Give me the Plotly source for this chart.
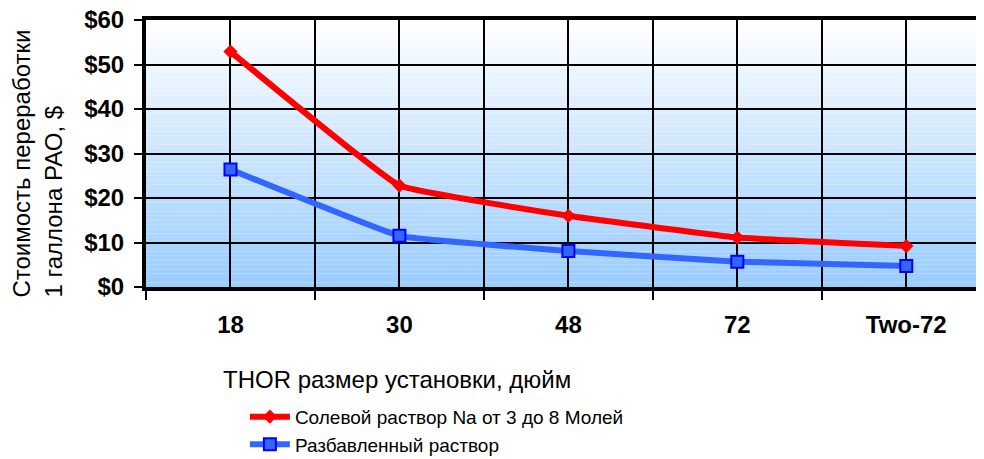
import plotly.graph_objects as go

categories = ["18", "30", "48", "72", "Two-72"]
brine_values = [52.9, 22.8, 16.0, 11.1, 9.2]
dilute_values = [26.4, 11.5, 8.1, 5.7, 4.7]
series_names = ["Солевой раствор Na от 3 до 8 Молей", "Разбавленный раствор"]
y_ticks = [0, 10, 20, 30, 40, 50, 60]
y_tick_labels = ["$0", "$10", "$20", "$30", "$40", "$50", "$60"]
y_title = "Стоимость переработки<br>1 галлона РАО, $"
x_title = "THOR размер установки, дюйм"

FONT = "Liberation Sans, Arial"
xpos = list(range(len(categories)))
boundaries = [i - 0.5 for i in range(len(categories) + 1)]

fig = go.Figure()
fig.add_trace(go.Scatter(
    x=xpos, y=brine_values, name=series_names[0], mode="lines+markers",
    line=dict(color="#FF0000", width=6, shape="spline", smoothing=0.25),
    marker=dict(symbol="diamond", size=11, color="#FF0000", line=dict(color="#FF0000", width=0)),
))
fig.add_trace(go.Scatter(
    x=xpos, y=dilute_values, name=series_names[1], mode="lines+markers",
    line=dict(color="#3366FF", width=6, shape="spline", smoothing=0.25),
    marker=dict(symbol="square", size=12, color="#3366FF", line=dict(color="#0000FF", width=2)),
))

# gradient background
N = 60
shapes = []
top = (255, 255, 255)
bot = (153, 204, 255)
for i in range(N):
    t = (i + 0.5) / N  # 0 bottom -> 1 top
    c = tuple(int(round(bot[k] + (top[k] - bot[k]) * t)) for k in range(3))
    shapes.append(dict(type="rect", xref="paper", yref="paper", x0=0, x1=1,
                       y0=i / N, y1=(i + 1) / N, fillcolor="rgb(%d,%d,%d)" % c,
                       line=dict(width=0), layer="below"))

fig.update_layout(
    width=976, height=451,
    margin=dict(l=138, r=0, t=12, b=172, autoexpand=False),
    paper_bgcolor="white", plot_bgcolor="rgba(0,0,0,0)",
    font=dict(family=FONT, color="black"),
    shapes=shapes,
    showlegend=True,
    legend=dict(x=0.118, xanchor="left", y=-0.415, yanchor="top",
                font=dict(size=19, family=FONT, color="black"),
                bgcolor="rgba(0,0,0,0)", tracegroupgap=0, itemwidth=40),
    annotations=[
        dict(text=x_title, xref="paper", yref="paper", x=0.090, y=-0.348,
             xanchor="left", yanchor="middle", showarrow=False,
             font=dict(size=24, family=FONT, color="black")),
        dict(text=y_title, xref="paper", yref="paper", x=-0.1295, y=0.464,
             xanchor="center", yanchor="middle", showarrow=False, textangle=-90,
             align="left", font=dict(size=24, family=FONT, color="black")),
    ],
)
fig.update_xaxes(
    range=[-0.5, 4.46], tickmode="array", tickvals=xpos, ticktext=categories,
    tickfont=dict(size=24, family=FONT, weight="bold", color="black"),
    ticklabelstandoff=13, automargin=False, ticklabeloverflow="allow",
    showgrid=True, gridcolor="black", gridwidth=2, ticks="",
    showline=True, linecolor="black", linewidth=4, mirror=True,
    zeroline=False,
    minor=dict(tickmode="array", tickvals=boundaries, ticks="outside", ticklen=9,
               tickwidth=2, tickcolor="black", showgrid=True, gridcolor="black", gridwidth=2),
)
fig.update_yaxes(
    range=[0, 60], tickmode="array", tickvals=y_ticks, ticktext=y_tick_labels,
    tickfont=dict(size=24, family=FONT, weight="bold", color="black"),
    ticks="outside", ticklen=8, tickwidth=2, tickcolor="black", automargin=False,
    ticklabelstandoff=5, ticklabeloverflow="allow",
    showgrid=True, gridcolor="black", gridwidth=2,
    showline=True, linecolor="black", linewidth=4, zeroline=False,
)
fig.update_traces(cliponaxis=False)
fig.write_html("out.html")
